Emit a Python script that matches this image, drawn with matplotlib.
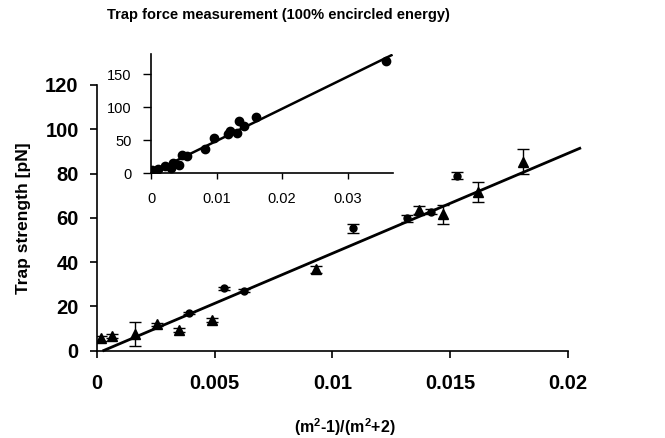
# trap force chart, main plot with inset

import matplotlib

matplotlib.use("Agg")

import matplotlib.pyplot as plt

OUT_FILE = "out.png"

TITLE = "Trap force measurement (100% encircled energy)"
X_LABEL = r"(m$^{\mathbf{2}}$-1)/(m$^{\mathbf{2}}$+2)"
Y_LABEL = "Trap strength [pN]"

# main plot, triangle series
tri_x = [0.00017, 0.00066, 0.00163, 0.00255, 0.0035, 0.0049, 0.00929,
         0.01369, 0.01468, 0.01617, 0.0181]
tri_y = [5.6, 6.6, 7.5, 11.9, 9.3, 13.9, 36.8, 63.5, 61.6, 71.8, 85.4]
tri_err = [1.0, 0.8, 5.3, 0.8, 1.0, 1.0, 1.5, 1.8, 4.4, 4.5, 5.6]

# main plot, round series
dot_x = [0.0039, 0.00541, 0.00626, 0.01089, 0.01316, 0.01419, 0.01528]
dot_y = [16.9, 28.2, 27.1, 55.3, 59.8, 62.8, 79.0]
dot_err = [0.5, 0.6, 0.8, 2.0, 1.5, 1.0, 1.5]

# main fit line
fit_x = [0.0003, 0.0205]
fit_y = [0.1, 91.4]

main_xticks = [0, 0.005, 0.01, 0.015, 0.02]
main_xlabels = ["0", "0.005", "0.01", "0.015", "0.02"]
main_yticks = [0, 20, 40, 60, 80, 100, 120]

# inset data
inset_x = [0.0001, 0.0011, 0.0021, 0.003, 0.0034, 0.0043, 0.0048, 0.0055,
           0.0083, 0.0096, 0.0117, 0.0121, 0.0131, 0.0134, 0.0142, 0.016,
           0.0359]
inset_y = [4.5, 5.6, 10.6, 8.0, 15.6, 11.6, 27.0, 25.5, 36.0, 53.5, 58.6,
           63.6, 61.0, 78.8, 71.0, 84.4, 170.0]
inset_fit_x = [0.0, 0.0367]
inset_fit_y = [0.0, 178.5]

inset_xticks = [0, 0.01, 0.02, 0.03]
inset_xlabels = ["0", "0.01", "0.02", "0.03"]
inset_yticks = [0, 50, 100, 150]


def style_axes(ax):
    for side in ("top", "right"):
        ax.spines[side].set_visible(False)
    for side in ("left", "bottom"):
        ax.spines[side].set_linewidth(1.2)
        ax.spines[side].set_color("black")


def build_main(fig):
    ax = fig.add_axes([0.1454, 0.1993, 0.7087, 0.6067])
    style_axes(ax)

    ax.plot(fit_x, fit_y, color="black", lw=2.0, clip_on=False, zorder=2)
    ax.errorbar(tri_x, tri_y, yerr=tri_err, fmt="^", color="black",
                ms=7, elinewidth=1, capsize=4, capthick=1, zorder=3)
    ax.errorbar(dot_x, dot_y, yerr=dot_err, fmt="o", color="black",
                ms=5, elinewidth=1, capsize=4, capthick=1, zorder=3)

    ax.set_xlim(0, 0.02)
    ax.set_ylim(0, 120)
    ax.set_xticks(main_xticks)
    ax.set_xticklabels(main_xlabels)
    ax.set_yticks(main_yticks)
    ax.tick_params(axis="x", direction="out", length=5, width=1.2, pad=12,
                   labelsize=14.5)
    ax.tick_params(axis="y", direction="out", length=5, width=1.2, pad=8,
                   labelsize=14.5)
    for lab in ax.get_xticklabels() + ax.get_yticklabels():
        lab.set_fontweight("bold")

    ax.set_ylabel(Y_LABEL, fontsize=12.5, fontweight="bold")
    ax.yaxis.set_label_coords(-0.139, 0.5)
    ax.set_xlabel(X_LABEL, fontsize=11.5, fontweight="bold")
    ax.xaxis.set_label_coords(0.527, -0.245)
    return ax


def build_inset(fig):
    ax = fig.add_axes([0.2271, 0.605, 0.3645, 0.2712])
    style_axes(ax)
    ax.set_facecolor("white")

    ax.plot(inset_fit_x, inset_fit_y, color="black", lw=1.8, zorder=2)
    ax.plot(inset_x, inset_y, "o", color="black", ms=6, zorder=3)

    ax.set_xlim(0, 0.037)
    ax.set_ylim(0, 180)
    ax.set_xticks(inset_xticks)
    ax.set_xticklabels(inset_xlabels)
    ax.set_yticks(inset_yticks)
    ax.tick_params(axis="x", direction="out", length=4, width=1, pad=10,
                   labelsize=10.5)
    ax.tick_params(axis="y", direction="out", length=6, width=1, pad=8,
                   labelsize=10.5)
    return ax


def main():
    plt.rcParams["font.family"] = ["Liberation Sans", "DejaVu Sans"]
    plt.rcParams["mathtext.fontset"] = "custom"
    plt.rcParams["mathtext.bf"] = "Liberation Sans:bold"
    plt.rcParams["mathtext.rm"] = "Liberation Sans:bold"

    fig = plt.figure(figsize=(6.65, 4.38), dpi=100)
    build_main(fig)
    build_inset(fig)
    fig.text(0.418, 0.965, TITLE, ha="center", va="center",
             fontsize=10.5, fontweight="bold")

    fig.savefig(OUT_FILE, dpi=100)
    plt.close(fig)


if __name__ == "__main__":
    main()
